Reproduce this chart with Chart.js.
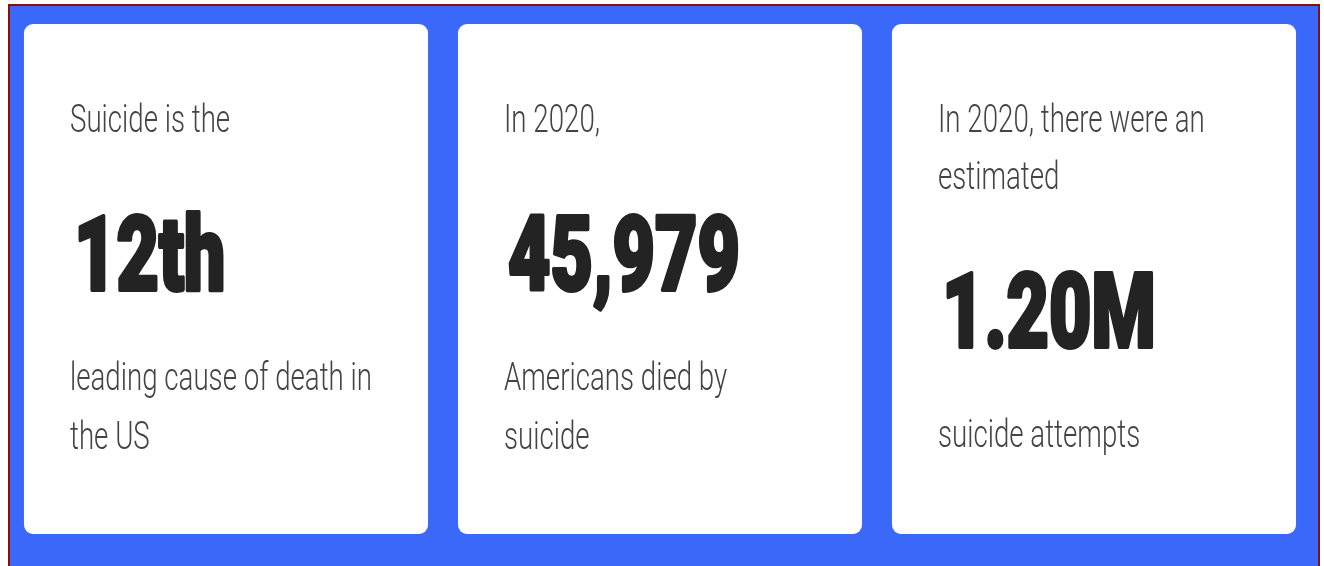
<!DOCTYPE html>
<html>
<head>
    <title>Suicide Statistics</title>
    <script src="https://cdn.jsdelivr.net/npm/chart.js"></script>
    <style>
        body { margin: 0; background: #fff; }
        canvas { display: block; }
    </style>
</head>
<body>
    <canvas id="statsChart" width="1324" height="566"></canvas>

    <script>
        // card content
        const cards = ['rank', 'deaths', 'attempts'];
        const bigValues = ['12th', '45,979', '1.20M'];
        const leadLines = [['Suicide is the'], ['In 2020,'], ['In 2020, there were an', 'estimated']];
        const tailLines = [['leading cause of death in', 'the US'], ['Americans died by', 'suicide'], ['suicide attempts']];
        const cardSpan = [[0, 1], [0, 1], [0, 1]];

        const smallFont = '300 38px Roboto, "Noto Sans", sans-serif';
        const bigFont = '900 103px Roboto, "Noto Sans", sans-serif';

        function drawSquished(ctx, text, x, y, sx, stroke) {
            ctx.save();
            ctx.translate(x, y);
            ctx.scale(sx, 1);
            if (stroke) {
                ctx.lineWidth = stroke;
                ctx.lineJoin = 'round';
                ctx.strokeText(text, 0, 0);
            }
            ctx.fillText(text, 0, 0);
            ctx.restore();
        }

        const framePlugin = {
            id: 'frame',
            beforeDraw(chart) {
                const ctx = chart.ctx;
                ctx.save();
                ctx.fillStyle = '#ffffff';
                ctx.fillRect(0, 0, chart.width, chart.height);
                ctx.fillStyle = '#8b0c0c';
                ctx.fillRect(8, 4, 1312, 580);
                ctx.fillStyle = '#3a69f9';
                ctx.fillRect(10, 6, 1308, 580);
                ctx.restore();
            }
        };

        const textPlugin = {
            id: 'cardText',
            afterDatasetsDraw(chart) {
                const ctx = chart.ctx;
                const bars = chart.getDatasetMeta(0).data;
                ctx.save();
                ctx.textBaseline = 'alphabetic';
                ctx.textAlign = 'left';

                ctx.font = smallFont;
                const smallScale = 302 / ctx.measureText('leading cause of death in').width;
                ctx.font = bigFont;
                const bigScale = 232 / ctx.measureText('45,979').width;

                bars.forEach((bar, i) => {
                    const left = bar.x - bar.width / 2 + 46;
                    const top = Math.min(bar.y, bar.base);
                    let y = top + 108;

                    ctx.font = smallFont;
                    ctx.fillStyle = '#444444';
                    leadLines[i].forEach((line, j) => {
                        if (j > 0) y += 57;
                        drawSquished(ctx, line, left, y, smallScale, 0);
                    });

                    y += 158;
                    ctx.font = bigFont;
                    ctx.fillStyle = '#232323';
                    ctx.strokeStyle = '#232323';
                    drawSquished(ctx, bigValues[i], left + 4, y, bigScale, 4);

                    y += 100;
                    ctx.font = smallFont;
                    ctx.fillStyle = '#444444';
                    tailLines[i].forEach((line, j) => {
                        if (j > 0) y += 59;
                        drawSquished(ctx, line, left, y, smallScale, 0);
                    });
                });
                ctx.restore();
            }
        };

        new Chart(document.getElementById('statsChart'), {
            type: 'bar',
            data: {
                labels: cards,
                datasets: [{
                    data: cardSpan,
                    backgroundColor: '#ffffff',
                    borderWidth: 0,
                    borderRadius: 9,
                    borderSkipped: false,
                    categoryPercentage: 1,
                    barPercentage: 0.931
                }]
            },
            options: {
                responsive: false,
                animation: false,
                layout: { padding: { left: 9, right: 13, top: 24, bottom: 32 } },
                plugins: {
                    legend: { display: false },
                    tooltip: { enabled: false }
                },
                scales: {
                    x: { display: false },
                    y: { display: false, min: 0, max: 1 }
                }
            },
            plugins: [framePlugin, textPlugin]
        });
    </script>
</body>
</html>
